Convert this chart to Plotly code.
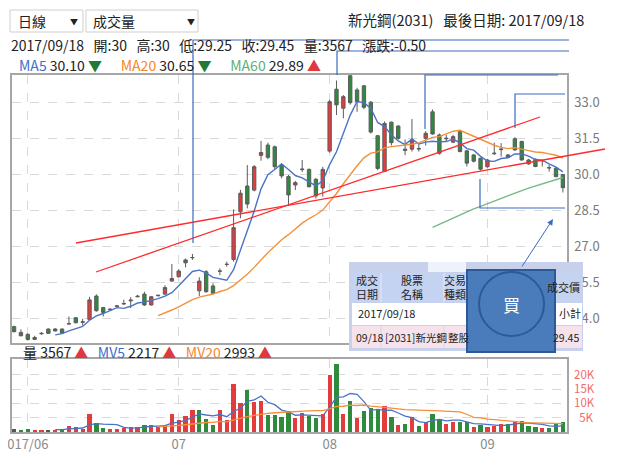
import numpy as np
import pandas as pd
import plotly.graph_objects as go

# daily bars of 2031 新光鋼, bar 0 = late May 2017, last bar = 2017/09/18
opens = [23.68, 23.44, 23.36, 23.15, 23.38, 23.58, 23.58, 23.58, 23.79, 24.05,
         23.86, 23.98, 24.95, 24.47, 24.38, 24.52, 24.62, 24.75, 24.92, 25.03,
         24.58, 24.96, 25.03, 25.57, 25.75, 26.45, 26.54, 25.17, 25.96, 25.37,
         25.98, 26.26, 26.47, 28.45, 29.52, 29.35, 30.79, 31.22, 31.15, 30.39,
         29.91, 29.56, 30.20, 30.21, 29.80, 29.44, 30.97, 33.54, 32.75, 34.10,
         33.51, 33.68, 33.00, 31.61, 30.12, 32.17, 32.01, 31.05, 31.05, 31.08,
         31.50, 32.60, 31.64, 31.48, 31.34, 31.78, 30.98, 30.81, 30.67, 30.32,
         30.86, 31.03, 30.81, 31.48, 31.37, 30.60, 30.63, 30.58, 30.27, 30.26, 30.00]
highs = [23.72, 23.57, 23.40, 23.30, 23.45, 23.60, 23.62, 23.60, 24.10, 24.08,
         24.00, 24.92, 25.02, 24.50, 24.45, 24.58, 24.80, 24.90, 25.00, 25.13,
         24.95, 25.00, 25.40, 26.28, 26.07, 26.51, 26.70, 25.73, 26.03, 25.48,
         26.10, 26.38, 28.55, 29.36, 30.39, 30.39, 31.39, 31.32, 31.20, 30.46,
         29.98, 29.73, 30.60, 30.25, 29.85, 30.32, 33.10, 33.90, 33.30, 34.13,
         33.60, 33.72, 33.05, 31.64, 32.20, 32.20, 32.05, 31.45, 32.30, 31.25,
         31.80, 32.70, 31.70, 31.64, 31.64, 31.82, 31.00, 30.85, 30.70, 30.65,
         31.32, 31.30, 30.85, 31.55, 31.40, 30.65, 30.66, 30.60, 30.40, 30.30, 30.00]
lows = [23.44, 23.28, 23.10, 23.12, 23.35, 23.38, 23.48, 23.38, 23.78, 23.82,
        23.73, 23.96, 24.30, 24.10, 24.35, 24.50, 24.58, 24.45, 24.90, 24.54,
        24.56, 24.94, 25.00, 25.55, 25.73, 26.14, 26.45, 24.95, 25.09, 25.03,
        25.82, 26.17, 26.38, 28.18, 28.59, 29.30, 30.57, 30.63, 30.20, 29.84,
        28.73, 29.35, 30.10, 29.46, 29.00, 29.08, 30.90, 32.47, 32.33, 32.90,
        32.60, 32.71, 31.70, 30.18, 30.10, 31.20, 31.45, 30.80, 30.95, 30.95,
        31.20, 31.65, 30.82, 31.36, 31.30, 30.92, 30.33, 30.50, 30.15, 30.28,
        30.81, 30.74, 30.68, 30.98, 30.58, 30.40, 30.30, 30.33, 30.12, 29.88, 29.25]
closes = [23.47, 23.30, 23.15, 23.23, 23.40, 23.40, 23.50, 23.41, 23.80, 23.84,
          23.88, 24.79, 24.34, 24.27, 24.40, 24.54, 24.64, 24.78, 24.94, 24.58,
          24.92, 24.98, 25.30, 25.68, 25.99, 26.33, 26.55, 25.57, 25.13, 25.06,
          25.99, 26.27, 27.79, 29.22, 28.77, 30.32, 30.91, 30.71, 30.32, 29.94,
          29.15, 29.66, 30.22, 29.49, 29.11, 30.21, 33.02, 32.89, 33.23, 32.98,
          33.02, 32.79, 31.76, 30.25, 32.12, 31.32, 31.50, 31.00, 31.43, 31.06,
          31.71, 31.68, 30.88, 31.50, 31.57, 30.95, 30.47, 30.55, 30.22, 30.60,
          30.88, 31.05, 30.71, 31.02, 30.60, 30.44, 30.33, 30.57, 30.28, 29.91, 29.45]
volumes = [1050, 815, 1165, 815, 815, 700, 815, 1050, 2215, 1750,
           1165, 6400, 3145, 1400, 1050, 1050, 1515, 1750, 1750, 2560,
           2450, 1750, 2450, 6400, 4080, 5475, 7800, 7800, 4540, 2560,
           7800, 4080, 16780, 10135, 14800, 10370, 10720, 5940, 5940, 5240,
           7220, 4890, 6520, 5475, 5010, 6400, 20040, 23770, 6290, 10720,
           4890, 7455, 8390, 8040, 8970, 5240, 2560, 2910, 5240, 2215,
           3380, 6400, 4660, 2910, 3380, 3380, 3380, 1750, 2450, 1865,
           2215, 2800, 2910, 3960, 3730, 2215, 1750, 1515, 1400, 2910, 3567]

month_pos = [2, 24, 46, 69]
month_text = ["017/06", "07", "08", "09"]
price_ticks = [24.0, 25.5, 27.0, 28.5, 30.0, 31.5, 33.0]
vol_ticks = [5000, 10000, 15000, 20000]
vol_tick_text = ["\u00a0\u00a05K", "10K", "15K", "20K"]

RED = "#e23c3c"
GREEN = "#2e8a3c"
BLUE = "#4a73c6"
ORANGE = "#f5903a"
MA60C = "#74b987"
ANNO = "#3b6bbf"

n = len(closes)
idx = np.arange(n)

# moving averages counted from the first June bar, as the chart does
start = 2
c = pd.Series(closes[start:], index=idx[start:])
v = pd.Series(volumes[start:], index=idx[start:], dtype=float)
ma5, ma20, ma60 = c.rolling(5).mean(), c.rolling(20).mean(), c.rolling(60).mean()
mv5, mv20 = v.rolling(5).mean(), v.rolling(20).mean()

chg = np.diff(np.array(closes), prepend=np.nan)
vol_colors = [RED if d > 0 else GREEN if d < 0 else "#555555" for d in chg]

fig = go.Figure()
fig.add_trace(go.Candlestick(
    x=idx, open=opens, high=highs, low=lows, close=closes,
    increasing=dict(line=dict(color="#5c5c5c", width=1), fillcolor=RED),
    decreasing=dict(line=dict(color="#5c5c5c", width=1), fillcolor=GREEN),
    whiskerwidth=0, showlegend=False, xaxis="x", yaxis="y"))
for s, col in [(ma5, BLUE), (ma20, ORANGE), (ma60, MA60C)]:
    fig.add_trace(go.Scatter(x=s.index, y=s.values, mode="lines",
                             line=dict(color=col, width=1.4),
                             showlegend=False, xaxis="x", yaxis="y"))

fig.add_trace(go.Bar(x=idx, y=volumes, marker=dict(color=vol_colors, line=dict(width=0)),
                     width=0.62, showlegend=False, xaxis="x2", yaxis="y2"))
for s, col in [(mv5, BLUE), (mv20, ORANGE)]:
    fig.add_trace(go.Scatter(x=s.index, y=s.values, mode="lines",
                             line=dict(color=col, width=1.3),
                             showlegend=False, xaxis="x2", yaxis="y2"))

# page geometry: window pixels; the page body keeps an 8px margin
OFF = 8
W, H = 621 - OFF, 463 - OFF
ML, MR = 12 - OFF, 54


def px(x):
    return (x - OFF - ML) / (W - ML - MR)


def py(y):
    return 1 - (y - OFF) / H


grid = dict(showgrid=True, gridcolor="#d9d9d9", griddash="dash", gridwidth=1,
            showline=True, mirror=True, linecolor="#a6a6a6", linewidth=1.5,
            zeroline=False, ticks="")
xr = [-0.3, 80.6]
fig.update_layout(
    width=W, height=H, autosize=False,
    margin=dict(l=ML, r=MR, t=0, b=0),
    paper_bgcolor="white", plot_bgcolor="white",
    font=dict(family="Noto Sans CJK TC, Noto Sans, sans-serif", size=13, color="#222"),
    bargap=0,
    xaxis=dict(domain=[0, 1], range=xr, anchor="y", tickvals=month_pos,
               showticklabels=False, rangeslider=dict(visible=False), **grid),
    yaxis=dict(domain=[py(343), py(75)], range=[23.0, 34.13], anchor="x", side="right",
               tickvals=price_ticks, ticktext=[f"{t:.1f}" for t in price_ticks],
               ticklabelstandoff=3,
               tickfont=dict(color="#7a7a7a", size=13), **grid),
    xaxis2=dict(domain=[0, 1], range=xr, anchor="y2", tickvals=month_pos,
                ticktext=month_text, ticklabeloverflow="allow",
                tickfont=dict(color="#8a8a8a", size=13), **grid),
    yaxis2=dict(domain=[py(432), py(359)], range=[0, 25500], anchor="x2", side="right",
                tickvals=vol_ticks, ticktext=vol_tick_text, ticklabelstandoff=3,
                tickfont=dict(color="#f06a6a", size=11.5), **grid),
)

shapes = []


def rect(x0, y0, x1, y1, fill, line=None, lw=0):
    shapes.append(dict(type="rect", xref="paper", yref="paper", layer="above",
                       x0=px(x0), x1=px(x1), y0=py(y1), y1=py(y0), fillcolor=fill,
                       line=dict(color=line or fill, width=lw)))


def poly(pts, color, width=1.2):
    d = "M " + " L ".join(f"{px(a):.5f},{py(b):.5f}" for a, b in pts)
    shapes.append(dict(type="path", xref="paper", yref="paper", layer="above",
                       path=d, line=dict(color=color, width=width)))


# drop-down boxes
rect(10, 10, 83, 32, "white", "#cfcfcf", 1)
rect(86, 10, 198, 32, "white", "#cfcfcf", 1)

# hand-drawn trend lines and markers
poly([(76, 243), (605, 149)], "#ff2a2a", 1.3)
poly([(96, 272), (540, 117)], "#ff2a2a", 1.3)
poly([(193, 243), (193, 40), (569, 40)], ANNO)
poly([(337, 75), (337, 51), (569, 51)], ANNO)
poly([(425, 129), (425, 75), (558, 75)], ANNO)
poly([(515, 128), (515, 94), (565, 94)], ANNO)
poly([(480, 179), (480, 208), (565, 208)], ANNO)

# trade list popup
rect(349, 262, 583, 351, "#c7d1ec")
rect(428, 262, 466, 272, "#eef2fb")
rect(352, 273, 582, 302, "#c3d3f1")
rect(352, 303, 582, 325, "white")
rect(352, 326, 582, 348, "#f6e2ea")
for xs in (381, 444, 553):
    poly([(xs, 273), (xs, 302)], "#e6ecf8", 1)
    poly([(xs, 326), (xs, 348)], "#d6d6e2", 1)

# buy button
rect(467, 270, 555, 352, "#4a7bbb", "#2d5a96", 2)
shapes.append(dict(type="circle", xref="paper", yref="paper", layer="above",
                   x0=px(479), x1=px(544), y0=py(336), y1=py(272),
                   line=dict(color="#2d5a96", width=2)))
fig.update_layout(shapes=shapes)

annotations = []


def text(x, y, s, size=13, color="#222", anchor="left"):
    annotations.append(dict(xref="paper", yref="paper", x=px(x), y=py(y), text=s,
                            showarrow=False, xanchor=anchor, yanchor="middle",
                            font=dict(size=size, color=color)))


def span(s, col):
    return f"<span style='color:{col}'>{s}</span>"


sp = "\u00a0"
text(16, 21, "日線", 14)
text(74, 21, "▼", 8, anchor="center")
text(91, 21, "成交量", 14)
text(191, 21, "▼", 8, anchor="center")
text(586, 19, f"新光鋼(2031){sp*3}最後日期: 2017/09/18", 14.5, anchor="right")
text(9, 45, (sp * 3).join(["2017/09/18", "開:30", "高:30", "低:29.25", "收:29.45",
                           "量:3567", "漲跌:-0.50"]), 14)
gap = sp * 6
text(17, 65, f"{span('MA5', '#3d6fc9')} 30.10 {span('▼', '#1f7a3a')}{gap}"
             f"{span('MA20', '#f5862c')} 30.65 {span('▼', '#1f7a3a')}{gap}"
             f"{span('MA60', '#5fae78')} 29.89 {span('▲', '#e0383c')}", 14)
text(21, 352, f"量 3567 {span('▲', '#e0383c')}{sp*3}"
              f"{span('MV5', '#3d6fc9')} 2217 {span('▲', '#e0383c')}{sp*3}"
              f"{span('MV20', '#f5862c')} 2993 {span('▲', '#e0383c')}", 14)

# popup table text
text(367, 287, "成交<br>日期", 11, anchor="center")
text(412, 287, "股票<br>名稱", 11, anchor="center")
text(455, 287, "交易<br>種類", 11, anchor="center")
text(582, 287, "成交價", 11, anchor="right")
text(356, 313, "2017/09/18", 11)
text(557, 313, "小計", 11)
text(354, 337, "09/18", 10.5)
text(383, 337, "[2031]新光鋼", 10.5)
text(446, 337, "整股", 10.5)
text(581, 337, "29.45", 10.5, anchor="right")
text(511.5, 304, "買", 17, "white", anchor="center")

annotations.append(dict(xref="paper", yref="paper", x=px(553), y=py(219), ax=-32, ay=49,
                        text="", showarrow=True, arrowhead=2, arrowsize=1.2,
                        arrowwidth=1, arrowcolor=ANNO))
fig.update_layout(annotations=annotations)

fig.write_html("out.html")
